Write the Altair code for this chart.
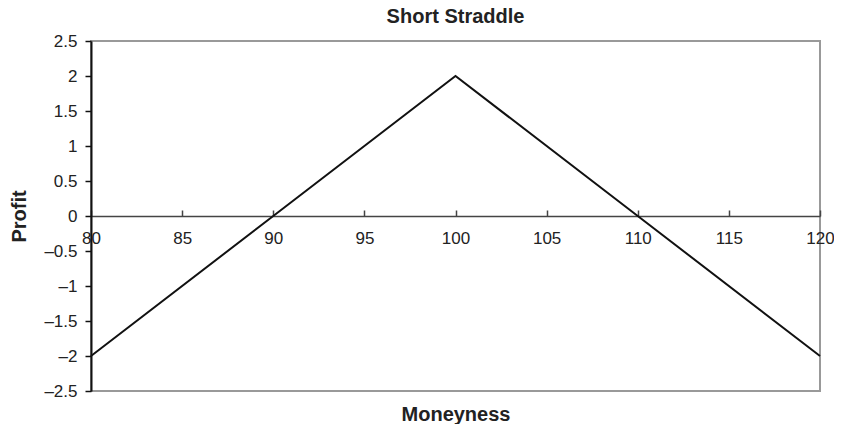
import altair as alt
import pandas as pd

# Data
moneyness = [80, 90, 100, 110, 120]
profit = [-2, 0, 2, 0, -2]
x_ticks = [80, 85, 90, 95, 100, 105, 110, 115, 120]
y_ticks = [-2.5, -2, -1.5, -1, -0.5, 0, 0.5, 1, 1.5, 2, 2.5]

df = pd.DataFrame({"Moneyness": moneyness, "Profit": profit})

FONT = "Liberation Sans"
W = 729
H = 350

chart = (
    alt.Chart(df)
    .mark_line(color="#111111", strokeWidth=2)
    .encode(
        x=alt.X(
            "Moneyness:Q",
            scale=alt.Scale(domain=[80, 120], nice=False, zero=False),
            axis=alt.Axis(
                orient="top",
                offset=-175,
                values=x_ticks,
                grid=False,
                domainColor="#444444",
                domainWidth=1.5,
                tickColor="#444444",
                tickWidth=1.5,
                tickSize=6,
                labelPadding=-20,
                labelBaseline="top",
                labelFont=FONT,
                labelFontSize=17,
                labelColor="#222222",
                labelOverlap=False,
                labelFlush=False,
                title="Moneyness",
                titleFont=FONT,
                titleFontSize=20,
                titleFontWeight="bold",
                titleColor="#222222",
                titleX=W / 2,
                titleY=204,
                titleBaseline="alphabetic",
                titleAlign="center",
            ),
        ),
        y=alt.Y(
            "Profit:Q",
            scale=alt.Scale(domain=[-2.5, 2.5], nice=False, zero=False),
            axis=alt.Axis(
                values=y_ticks,
                grid=False,
                domainColor="#111111",
                domainWidth=2,
                tickColor="#111111",
                tickWidth=1.5,
                tickSize=6,
                labelPadding=8,
                labelFont=FONT,
                labelFontSize=17,
                labelColor="#222222",
                labelOverlap=False,
                labelFlush=False,
                labelExpr="(datum.value < 0 ? '–' : '') + format(abs(datum.value), '~g')",
                title="Profit",
                titleFont=FONT,
                titleFontSize=20,
                titleFontWeight="bold",
                titleColor="#222222",
                titleX=-66,
                titleY=H / 2,
                titleBaseline="alphabetic",
                titleAlign="center",
                titleAngle=270,
            ),
        ),
    )
    .properties(
        width=W,
        height=H,
        title=alt.TitleParams(
            "Short Straddle",
            font=FONT,
            fontSize=20,
            fontWeight="bold",
            color="#222222",
            anchor="middle",
            offset=5,
        ),
        autosize=alt.AutoSizeParams(type="none"),
        padding={"left": 83, "top": 33, "right": 14, "bottom": 33},
    )
    .configure_view(stroke="#999999", strokeWidth=2)
)

chart.save("out.html", embed_options={"renderer": "svg", "actions": False})
